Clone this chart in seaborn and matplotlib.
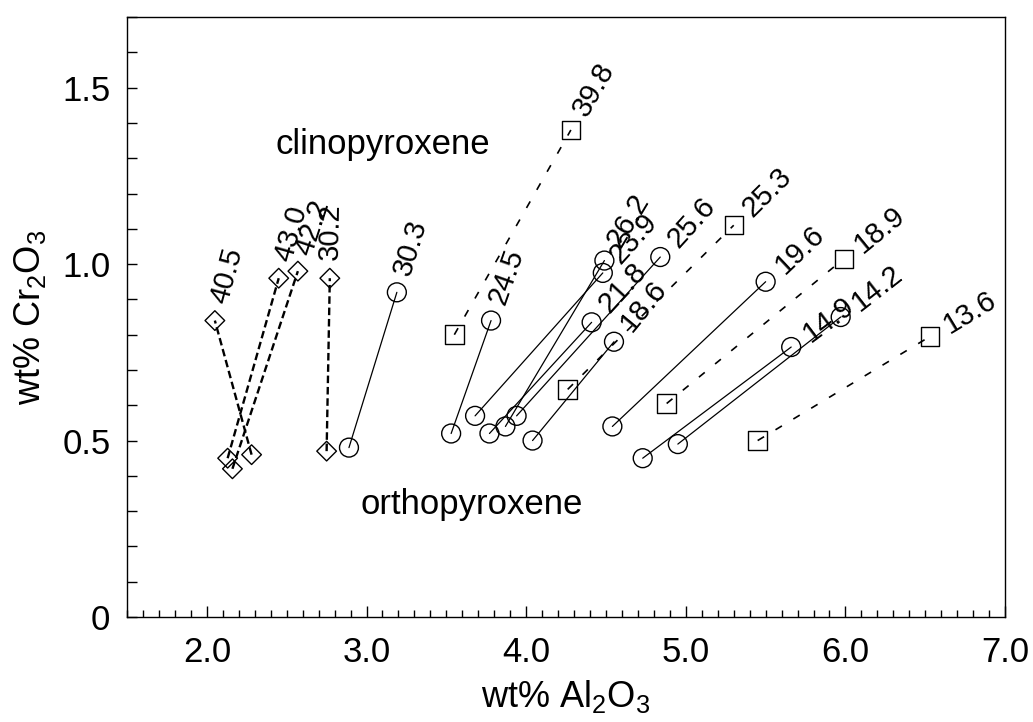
import numpy as np
import pandas as pd
import matplotlib
matplotlib.use('Agg')
import matplotlib.pyplot as plt
from matplotlib.ticker import MultipleLocator
import seaborn as sns

# diamond pairs (dashed), label = value written at the cpx end
dia_labels = ['40.5', '43.0', '42.2', '30.2']
dia_opx_al = [2.28, 2.13, 2.16, 2.75]
dia_opx_cr = [0.46, 0.45, 0.42, 0.47]
dia_cpx_al = [2.05, 2.45, 2.57, 2.77]
dia_cpx_cr = [0.84, 0.96, 0.98, 0.96]

# circle pairs (solid)
cir_labels = ['30.3', '24.5', '26.2', '23.9', '21.8', '25.6', '18.6', '19.6', '14.9', '14.2']
cir_opx_al = [2.89, 3.53, 3.87, 3.68, 3.77, 3.94, 4.04, 4.54, 4.73, 4.95]
cir_opx_cr = [0.48, 0.52, 0.54, 0.57, 0.52, 0.57, 0.50, 0.54, 0.45, 0.49]
cir_cpx_al = [3.19, 3.78, 4.49, 4.48, 4.41, 4.84, 4.55, 5.50, 5.66, 5.97]
cir_cpx_cr = [0.92, 0.84, 1.01, 0.975, 0.835, 1.02, 0.78, 0.95, 0.765, 0.85]

# square pairs (sparse dashes)
sq_labels = ['39.8', '25.3', '18.9', '13.6']
sq_opx_al = [3.55, 4.26, 4.88, 5.45]
sq_opx_cr = [0.80, 0.645, 0.605, 0.50]
sq_cpx_al = [4.28, 5.30, 5.99, 6.53]
sq_cpx_cr = [1.38, 1.11, 1.015, 0.795]

groups = {
    'diamond': (dia_labels, dia_opx_al, dia_opx_cr, dia_cpx_al, dia_cpx_cr),
    'circle': (cir_labels, cir_opx_al, cir_opx_cr, cir_cpx_al, cir_cpx_cr),
    'square': (sq_labels, sq_opx_al, sq_opx_cr, sq_cpx_al, sq_cpx_cr),
}

rows = []
for kind, (labs, oa, oc, ca, cc) in groups.items():
    for i, lab in enumerate(labs):
        pair = f'{kind}_{i}'
        rows.append({'pair': pair, 'kind': kind, 'label': lab, 'phase': 'opx', 'al': oa[i], 'cr': oc[i]})
        rows.append({'pair': pair, 'kind': kind, 'label': lab, 'phase': 'cpx', 'al': ca[i], 'cr': cc[i]})
df = pd.DataFrame(rows)

sns.set_style('ticks')
plt.rcParams['font.family'] = ['Liberation Sans', 'DejaVu Sans']
plt.rcParams['mathtext.default'] = 'regular'
for key in ['text.color', 'axes.labelcolor', 'xtick.color', 'ytick.color', 'axes.edgecolor']:
    plt.rcParams[key] = 'black'

fig = plt.figure(figsize=(10.33, 7.22), dpi=100)
ax = fig.add_axes([0.123, 0.1454, 0.850, 0.831])

sns.lineplot(data=df, x='al', y='cr', units='pair', estimator=None, sort=False,
             style='kind', dashes={'diamond': (3.2, 1.6), 'circle': '', 'square': (4.5, 8)},
             size='kind', sizes={'diamond': 1.7, 'circle': 0.9, 'square': 1.2},
             color='black', legend=False, ax=ax)
sns.scatterplot(data=df, x='al', y='cr', style='kind',
                markers={'diamond': 'D', 'circle': 'o', 'square': 's'},
                size='kind', sizes={'diamond': 100, 'circle': 185, 'square': 175},
                facecolor='none', edgecolor='black', linewidth=1.0,
                legend=False, ax=ax, zorder=3)

ax.set_xlim(1.5, 7.0)
ax.set_ylim(0, 1.7)
ax.set_xticks(np.arange(2.0, 7.01, 1.0))
ax.xaxis.set_major_formatter('{x:.1f}')
ax.xaxis.set_minor_locator(MultipleLocator(0.1))
ax.set_yticks([0, 0.5, 1.0, 1.5])
ax.set_yticklabels(['0', '0.5', '1.0', '1.5'])
ax.yaxis.set_minor_locator(MultipleLocator(0.1))
ax.tick_params(which='both', direction='in', labelsize=25, width=1.0)
ax.tick_params(axis='x', which='major', length=8, pad=14)
ax.tick_params(axis='x', which='minor', length=5)
ax.tick_params(axis='y', which='both', length=7, pad=12)
for sp in ax.spines.values():
    sp.set_linewidth(1.0)

ax.set_xlabel('wt% Al$_2$O$_3$', fontsize=26, labelpad=6)
ax.set_ylabel('wt% Cr$_2$O$_3$', fontsize=26, labelpad=10)

# value labels at the cpx end, turned along the tie line
for pair, sub in df.groupby('pair', sort=False):
    o = sub[sub.phase == 'opx'].iloc[0]
    c = sub[sub.phase == 'cpx'].iloc[0]
    p0 = ax.transData.transform((o.al, o.cr))
    p1 = ax.transData.transform((c.al, c.cr))
    ang = np.degrees(np.arctan2(p1[1] - p0[1], p1[0] - p0[0]))
    if ang > 90:
        ang = 180 - ang
    r = np.radians(ang)
    ax.annotate(c.label, xy=(c.al, c.cr), xytext=(13 * np.cos(r), 13 * np.sin(r)),
                textcoords='offset points', rotation=ang, rotation_mode='anchor',
                ha='left', va='center', fontsize=21)

ax.text(3.10, 1.338, 'clinopyroxene', ha='center', va='center', fontsize=25)
ax.text(3.66, 0.318, 'orthopyroxene', ha='center', va='center', fontsize=25)

fig.savefig('out.png', dpi=100)
